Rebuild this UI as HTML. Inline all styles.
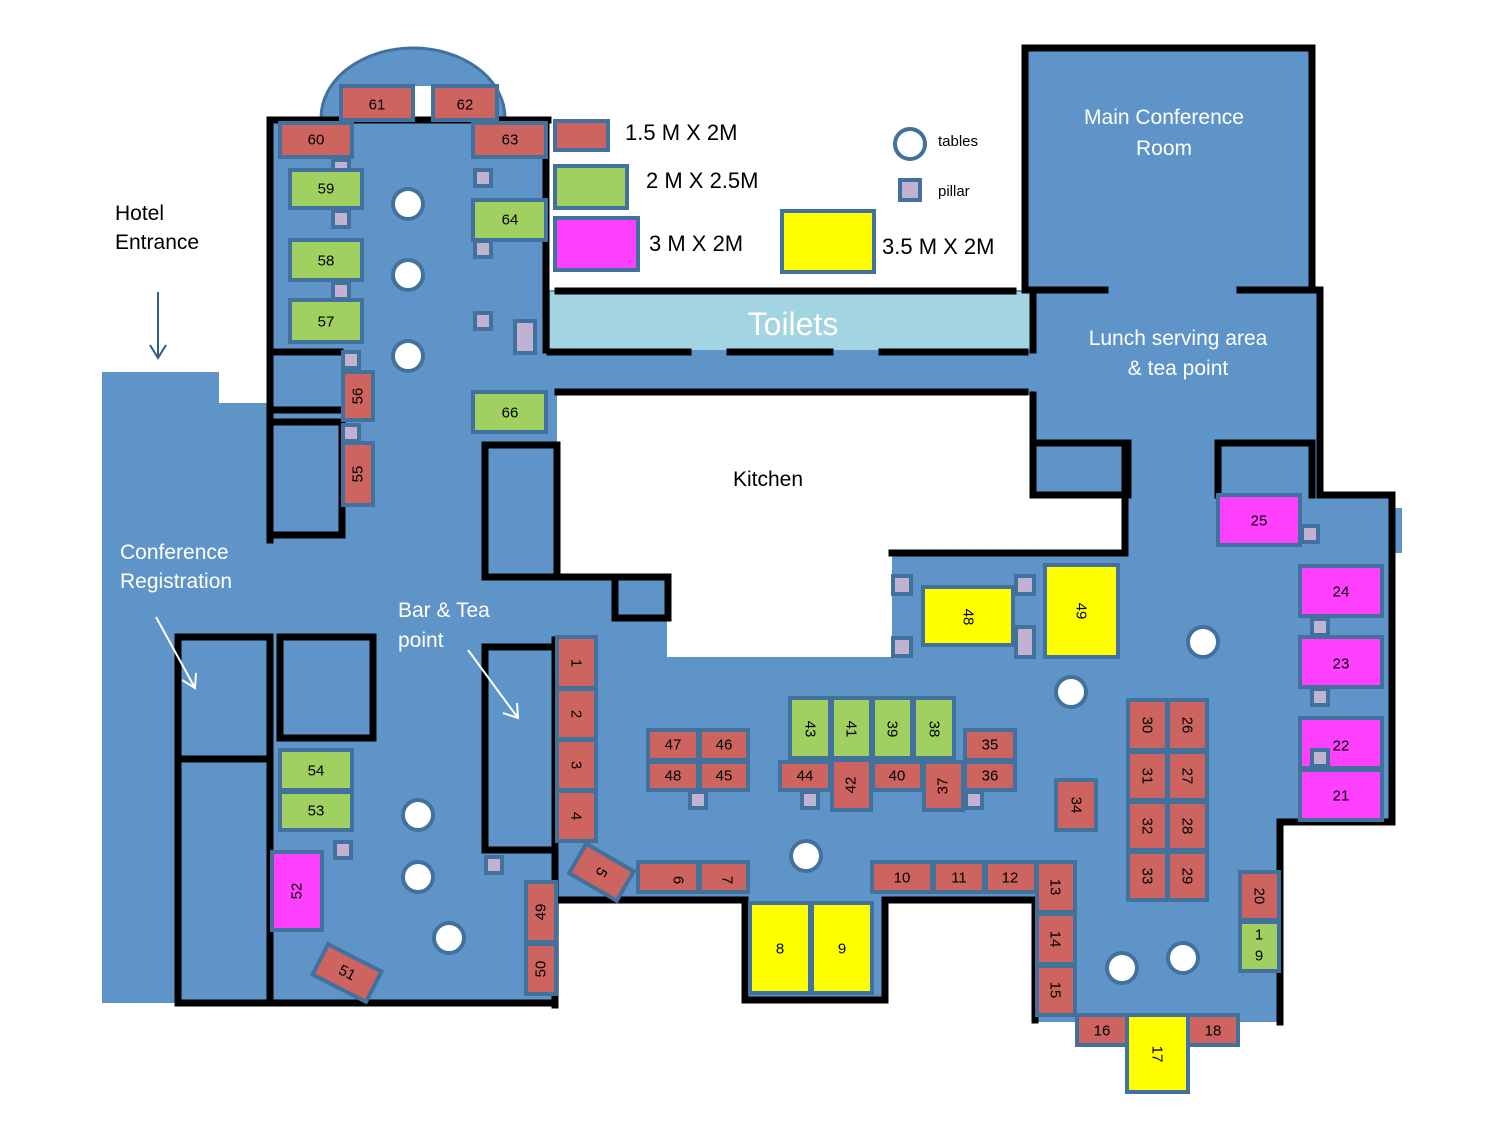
<!DOCTYPE html>
<html><head><meta charset="utf-8"><style>
html,body{margin:0;padding:0;background:#fff;width:1500px;height:1125px;overflow:hidden}
svg{display:block}
text{font-family:"Liberation Sans",sans-serif}
.t{stroke:#41719c;stroke-width:4}
.r{fill:#cd6460}.g{fill:#a0d060}.m{fill:#ff40ff}.y{fill:#ffff00}
.p{fill:#c0b2d0;stroke:#41719c;stroke-width:4}
.c{fill:#fff;stroke:#41719c;stroke-width:4}
.w{stroke:#000;stroke-width:7;fill:none;stroke-linecap:square}
.l{font-size:15px;fill:#000;text-anchor:middle;dominant-baseline:central}
.wt{fill:#fff;font-size:21px}
</style></head><body>
<svg width="1500" height="1125" viewBox="0 0 1500 1125" xmlns="http://www.w3.org/2000/svg">
<!-- floor -->
<ellipse cx="413" cy="118" rx="92" ry="70" fill="#5f94c8" stroke="#41719c" stroke-width="3"/>
<polygon fill="#5f94c8" points="270,118 548,118 548,290 1025,290 1025,48 1312,48 1312,290 1320,290 1320,495 1392,495 1392,508 1402,508 1402,553 1392,553 1392,822 1280,822 1280,1022 1035,1022 1035,900 885,900 885,1003 745,1003 745,900 555,900 555,1005 270,1005 270,1003 102,1003 102,372 219,372 219,403 270,403"/>
<rect x="1392" y="508" width="10" height="45" fill="#5f94c8"/>
<!-- kitchen white -->
<polygon fill="#fff" points="557,395 1030,395 1030,495 1125,495 1125,553 892,553 892,657 667,657 667,580 557,580"/>
<rect x="412" y="86" width="22" height="32" fill="#fff"/>
<!-- toilets -->
<rect x="550" y="292" width="482" height="58" fill="#a2d4e2"/>
<!-- walls -->
<g class="w">
<path d="M270,120 V540"/>
<path d="M270,120 H548 M546,120 V350"/>
<path d="M270,352 H340 M270,410 H340 M270,422 H342 V535 H270"/>
<path d="M178,637 H270 V1003 H178 Z M178,759 H270"/>
<path d="M280,637 H373 V738 H280 Z"/>
<path d="M555,647 H485 V850 H555 M555,640 V1005 M178,1003 H555"/>
<path d="M555,900 H745 V1000 H885 V900 H1035 V1020"/>
<path d="M557,577 V445 H485 V577 H668 V618 H615 V577"/>
<path d="M558,291 H1013 M550,352 H688 M730,352 H830 M882,352 H1025 M558,392 H1025"/>
<path d="M1025,290 V48 H1312 V290 M1025,290 H1105 M1240,290 H1320 V495"/>
<path d="M1033,295 V350 M1033,395 V495 H1128 V443 H1035 M1125,443 V553 M892,553 H1118"/>
<path d="M1218,495 V443 H1312 V495"/>
<path d="M1320,495 H1392 V822 H1280 V1022"/>
</g>
<!-- legend -->
<rect x="555" y="121" width="53" height="29" class="t r"/>
<rect x="555" y="166" width="72" height="42" class="t g"/>
<rect x="555" y="218" width="83" height="52" class="t m"/>
<rect x="782" y="211" width="92" height="61" class="t y"/>
<text x="625" y="140" font-size="22">1.5 M X 2M</text>
<text x="646" y="188" font-size="22">2 M X 2.5M</text>
<text x="649" y="251" font-size="22">3 M X 2M</text>
<text x="882" y="254" font-size="22">3.5 M X 2M</text>
<circle cx="910" cy="144" r="15" class="c"/>
<text x="938" y="146" font-size="15">tables</text>
<rect x="900" y="180" width="20" height="20" class="p"/>
<text x="938" y="196" font-size="15">pillar</text>
<!-- labels -->
<text x="115" y="220" font-size="21">Hotel</text>
<text x="115" y="249" font-size="21">Entrance</text>
<path d="M158,292 V356 M150,345 L158,358 L166,345" stroke="#2f5c8a" stroke-width="2" fill="none"/>
<text x="120" y="559" class="wt">Conference</text>
<text x="120" y="588" class="wt">Registration</text>
<text x="398" y="617" class="wt">Bar &amp; Tea</text>
<text x="398" y="647" class="wt">point</text>
<path d="M156,617 L195,688 M182,680 L195,688 L196,673" stroke="#fff" stroke-width="2" fill="none"/>
<path d="M468,650 L518,718 M503,713 L518,718 L517,703" stroke="#fff" stroke-width="2" fill="none"/>
<text x="733" y="486" font-size="21">Kitchen</text>
<text x="793" y="335" font-size="32" fill="#fff" text-anchor="middle">Toilets</text>
<text x="1164" y="124" class="wt" text-anchor="middle">Main Conference</text>
<text x="1164" y="155" class="wt" text-anchor="middle">Room</text>
<text x="1178" y="345" class="wt" text-anchor="middle">Lunch serving area</text>
<text x="1178" y="375" class="wt" text-anchor="middle">&amp; tea point</text>
<!-- circles -->
<g class="c">
<circle cx="408" cy="204" r="15"/><circle cx="408" cy="275" r="15"/><circle cx="408" cy="356" r="15"/>
<circle cx="418" cy="815" r="15"/><circle cx="418" cy="877" r="15"/><circle cx="449" cy="938" r="15"/>
<circle cx="806" cy="856" r="15"/><circle cx="1203" cy="642" r="15"/><circle cx="1071" cy="692" r="15"/>
<circle cx="1122" cy="968" r="15"/><circle cx="1183" cy="958" r="15"/>
</g>
<!-- pillars -->
<g class="p">
<rect x="333" y="160" width="16" height="16"/><rect x="333" y="211" width="16" height="16"/><rect x="333" y="283" width="16" height="16"/>
<rect x="343" y="352" width="16" height="16"/><rect x="343" y="425" width="16" height="16"/>
<rect x="475" y="170" width="16" height="16"/><rect x="475" y="241" width="16" height="16"/><rect x="475" y="313" width="16" height="16"/>
<rect x="515" y="321" width="20" height="32"/>
<rect x="893" y="576" width="18" height="18"/><rect x="1016" y="576" width="18" height="18"/><rect x="893" y="638" width="18" height="18"/><rect x="1016" y="627" width="18" height="30"/>
<rect x="690" y="792" width="16" height="16"/><rect x="802" y="792" width="16" height="16"/><rect x="966" y="792" width="16" height="16"/>
<rect x="335" y="842" width="16" height="16"/><rect x="486" y="857" width="16" height="16"/>
<rect x="1160" y="792" width="16" height="16"/>
<rect x="1312" y="619" width="16" height="16"/><rect x="1312" y="689" width="16" height="16"/>
<rect x="1302" y="526" width="16" height="16"/>
</g>
<!-- tables -->
<g class="t">
<rect x="341" y="86" width="72" height="34" class="r"/><rect x="433" y="86" width="64" height="34" class="r"/>
<rect x="280" y="123" width="72" height="34" class="r"/><rect x="473" y="123" width="73" height="34" class="r"/>
<rect x="290" y="170" width="72" height="38" class="g"/><rect x="290" y="240" width="72" height="40" class="g"/><rect x="290" y="300" width="72" height="42" class="g"/>
<rect x="473" y="200" width="73" height="40" class="g"/><rect x="473" y="392" width="73" height="40" class="g"/>
<rect x="343" y="372" width="30" height="48" class="r"/><rect x="343" y="443" width="30" height="62" class="r"/>
<rect x="280" y="750" width="72" height="40" class="g"/><rect x="280" y="792" width="72" height="38" class="g"/>
<rect x="272" y="852" width="50" height="78" class="m"/>
<rect x="317" y="956" width="60" height="34" class="r" transform="rotate(27 347 973)"/>
<rect x="526" y="882" width="30" height="60" class="r"/><rect x="526" y="944" width="30" height="50" class="r"/>
<rect x="557" y="637" width="39" height="51" class="r"/><rect x="557" y="689" width="39" height="50" class="r"/><rect x="557" y="740" width="39" height="50" class="r"/><rect x="557" y="791" width="39" height="50" class="r"/>
<rect x="574" y="855" width="55" height="34" class="r" transform="rotate(30 601 872)"/>
<rect x="638" y="862" width="60" height="30" class="r"/><rect x="700" y="862" width="48" height="30" class="r"/>
<rect x="750" y="903" width="60" height="90" class="y"/><rect x="812" y="903" width="60" height="90" class="y"/>
<rect x="872" y="862" width="60" height="30" class="r"/><rect x="934" y="862" width="50" height="30" class="r"/><rect x="986" y="862" width="50" height="30" class="r"/>
<rect x="1037" y="862" width="38" height="50" class="r"/><rect x="1037" y="914" width="38" height="50" class="r"/><rect x="1037" y="966" width="38" height="49" class="r"/>
<rect x="1077" y="1015" width="50" height="30" class="r"/><rect x="1188" y="1015" width="50" height="30" class="r"/>
<rect x="1127" y="1015" width="61" height="77" class="y"/>
<rect x="1240" y="872" width="39" height="48" class="r"/><rect x="1240" y="922" width="39" height="49" class="g"/>
<rect x="1128" y="700" width="39" height="50" class="r"/><rect x="1168" y="700" width="39" height="50" class="r"/>
<rect x="1128" y="752" width="39" height="48" class="r"/><rect x="1168" y="752" width="39" height="48" class="r"/>
<rect x="1128" y="802" width="39" height="48" class="r"/><rect x="1168" y="802" width="39" height="48" class="r"/>
<rect x="1128" y="852" width="39" height="48" class="r"/><rect x="1168" y="852" width="39" height="48" class="r"/>
<rect x="1056" y="780" width="40" height="50" class="r"/>
<rect x="1300" y="718" width="82" height="50" class="m"/><rect x="1300" y="770" width="82" height="50" class="m"/>
<rect x="1300" y="637" width="82" height="50" class="m"/><rect x="1300" y="566" width="82" height="50" class="m"/>
<rect x="1218" y="495" width="82" height="50" class="m"/>
<rect x="923" y="587" width="90" height="58" class="y"/><rect x="1045" y="565" width="73" height="92" class="y"/>
<rect x="790" y="698" width="40" height="60" class="g"/><rect x="832" y="698" width="39" height="60" class="g"/><rect x="873" y="698" width="39" height="60" class="g"/><rect x="914" y="698" width="40" height="60" class="g"/>
<rect x="965" y="730" width="50" height="30" class="r"/><rect x="965" y="762" width="50" height="28" class="r"/>
<rect x="780" y="762" width="50" height="28" class="r"/><rect x="832" y="760" width="39" height="50" class="r"/>
<rect x="873" y="762" width="49" height="28" class="r"/><rect x="924" y="762" width="39" height="48" class="r"/>
<rect x="648" y="730" width="50" height="30" class="r"/><rect x="700" y="730" width="48" height="30" class="r"/>
<rect x="648" y="762" width="50" height="28" class="r"/><rect x="700" y="762" width="48" height="28" class="r"/>
</g>
<rect x="1312" y="750" width="16" height="16" class="p"/>
<!-- table labels -->
<g class="l">
<text x="377" y="105">61</text><text x="465" y="105">62</text><text x="316" y="140">60</text><text x="510" y="140">63</text>
<text x="326" y="189">59</text><text x="326" y="261">58</text><text x="326" y="322">57</text>
<text x="510" y="220">64</text><text x="510" y="413">66</text>
<text transform="translate(358,396) rotate(-90)">56</text><text transform="translate(358,474) rotate(-90)">55</text>
<text x="316" y="771">54</text><text x="316" y="811">53</text>
<text transform="translate(297,891) rotate(-90)">52</text>
<text transform="translate(347,973) rotate(27)">51</text>
<text transform="translate(541,912) rotate(-90)">49</text><text transform="translate(541,969) rotate(-90)">50</text>
<text transform="translate(576,663) rotate(90)">1</text><text transform="translate(576,714) rotate(90)">2</text><text transform="translate(576,765) rotate(90)">3</text><text transform="translate(576,816) rotate(90)">4</text>
<text transform="translate(601,872) rotate(120)">5</text>
<text transform="translate(678,880) rotate(90)">6</text><text transform="translate(727,880) rotate(90)">7</text>
<text x="780" y="949">8</text><text x="842" y="949">9</text>
<text x="902" y="878">10</text><text x="959" y="878">11</text><text x="1010" y="878">12</text>
<text transform="translate(1055,887) rotate(90)">13</text><text transform="translate(1055,939) rotate(90)">14</text><text transform="translate(1055,990) rotate(90)">15</text>
<text x="1102" y="1031">16</text><text x="1213" y="1031">18</text>
<text transform="translate(1157,1054) rotate(90)">17</text>
<text transform="translate(1259,896) rotate(90)">20</text>
<text x="1259" y="935">1</text><text x="1259" y="956">9</text>
<text transform="translate(1147,725) rotate(90)">30</text><text transform="translate(1187,725) rotate(90)">26</text>
<text transform="translate(1147,776) rotate(90)">31</text><text transform="translate(1187,776) rotate(90)">27</text>
<text transform="translate(1147,826) rotate(90)">32</text><text transform="translate(1187,826) rotate(90)">28</text>
<text transform="translate(1147,876) rotate(90)">33</text><text transform="translate(1187,876) rotate(90)">29</text>
<text transform="translate(1076,805) rotate(90)">34</text>
<text x="1341" y="746">22</text><text x="1341" y="796">21</text><text x="1341" y="664">23</text><text x="1341" y="592">24</text><text x="1259" y="521">25</text>
<text transform="translate(968,617) rotate(90)">48</text><text transform="translate(1081,611) rotate(90)">49</text>
<text transform="translate(810,729) rotate(90)">43</text><text transform="translate(851,729) rotate(90)">41</text><text transform="translate(892,729) rotate(90)">39</text><text transform="translate(934,729) rotate(90)">38</text>
<text x="990" y="745">35</text><text x="990" y="776">36</text>
<text x="805" y="776">44</text><text transform="translate(851,785) rotate(-90)">42</text>
<text x="897" y="776">40</text><text transform="translate(943,786) rotate(-90)">37</text>
<text x="673" y="745">47</text><text x="724" y="745">46</text><text x="673" y="776">48</text><text x="724" y="776">45</text>
</g>
</svg>
</body></html>
